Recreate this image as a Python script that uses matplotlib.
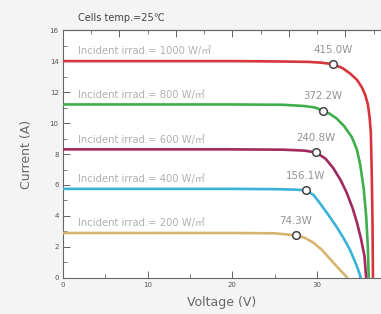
import matplotlib
matplotlib.use("Agg")
import matplotlib.pyplot as plt
import numpy as np

plt.rcParams['font.family'] = ['DejaVu Sans', 'Noto Sans CJK SC']

# ---- data ----
irradiances = [1000, 800, 600, 400, 200]
powers = ["415.0W", "372.2W", "240.8W", "156.1W", "74.3W"]
colors = ["#d8343c", "#3fae4c", "#a3285f", "#3bb2d9", "#d6b56e"]

v_1000 = [0, 10, 20, 25, 29, 30.5, 31.9, 33.0, 33.9, 34.7, 35.3, 35.7, 36.0, 36.2, 36.35, 36.45, 36.55, 36.6]
i_1000 = [14.0, 14.0, 14.0, 13.98, 13.95, 13.9, 13.8, 13.55, 13.2, 12.8, 12.3, 11.8, 11.2, 10.4, 9.4, 7.0, 3.5, 0.0]

v_800 = [0, 10, 20, 26, 28.5, 29.8, 30.7, 31.5, 32.3, 33.2, 34.1, 34.7, 35.1, 35.5, 35.8, 36.0, 36.1]
i_800 = [11.2, 11.2, 11.2, 11.18, 11.1, 11.0, 10.8, 10.6, 10.3, 9.8, 9.1, 8.3, 7.3, 5.8, 4.0, 2.0, 0.0]

v_600 = [0, 10, 20, 26, 28.5, 29.9, 31.0, 31.9, 32.8, 33.5, 34.2, 34.7, 35.2, 35.6, 35.8]
i_600 = [8.3, 8.3, 8.3, 8.28, 8.22, 8.1, 7.7, 7.1, 6.3, 5.5, 4.5, 3.6, 2.5, 1.4, 0.0]

v_400 = [0, 10, 20, 25, 27.5, 28.7, 29.6, 30.3, 31.3, 32.3, 33.1, 33.9, 34.6, 35.2]
i_400 = [5.75, 5.75, 5.75, 5.73, 5.7, 5.65, 5.35, 4.85, 4.1, 3.3, 2.6, 1.8, 0.9, 0.0]

v_200 = [0, 10, 20, 25, 27.5, 28.5, 29.5, 30.5, 31.5, 32.3, 33.0, 33.6]
i_200 = [2.9, 2.9, 2.9, 2.88, 2.75, 2.6, 2.3, 1.85, 1.25, 0.75, 0.35, 0.0]

mpp_v = [31.9, 30.7, 29.9, 28.7, 27.5]
mpp_i = [13.8, 10.8, 8.1, 5.65, 2.75]

curves_v = [v_1000, v_800, v_600, v_400, v_200]
curves_i = [i_1000, i_800, i_600, i_400, i_200]
flat_i = [14.0, 11.2, 8.3, 5.75, 2.9]

x_ticks = [0, 10, 20, 30]
y_ticks = [0, 2, 4, 6, 8, 10, 12, 14, 16]

# ---- figure ----
fig = plt.figure(figsize=(3.81, 3.14), dpi=100, facecolor="#f4f4f4")
ax = fig.add_axes([0.165, 0.115, 0.835, 0.789])
ax.set_facecolor("white")

for v, i, c in zip(curves_v, curves_i, colors):
    ax.plot(v, i, color=c, lw=1.9, solid_capstyle='butt', zorder=3)

ax.plot(mpp_v, mpp_i, linestyle='none', marker='o', ms=5.5, mfc='white',
        mec='#444444', mew=1.1, zorder=4)

for irr, fi in zip(irradiances, flat_i):
    ax.text(1.8, fi + 0.3, f"Incident irrad.= {irr} W/㎡", fontsize=7.2,
            color="#b0b0b0", va='bottom', ha='left', zorder=5)

for p, mv, mi in zip(powers, mpp_v, mpp_i):
    ax.text(mv, mi + 0.6, p, fontsize=7.4, color="#939393",
            ha='center', va='bottom', zorder=5)

ax.set_xlim(0, 37.55)
ax.set_ylim(0, 16)
ax.set_xticks(x_ticks)
ax.set_xticks([5, 15, 25, 35], minor=True)
ax.set_yticks(y_ticks)
ax.set_yticks(np.arange(1, 16, 2), minor=True)

for s in ['left', 'bottom', 'top']:
    ax.spines[s].set_color('#666666')
    ax.spines[s].set_linewidth(0.8)
ax.spines['right'].set_visible(False)

ax.tick_params(axis='both', which='major', direction='in', length=5, width=0.7,
               color='#666666', labelsize=5, labelcolor='#555555', pad=3)
ax.tick_params(axis='both', which='minor', direction='in', length=3, width=0.6,
               color='#666666')
ax.tick_params(axis='x', top=False)

top = ax.secondary_xaxis('top')
top.set_xticks([20/3, 40/3, 20, 80/3, 100/3])
top.set_xticks([10/3, 10, 50/3, 70/3, 30, 110/3], minor=True)
top.tick_params(which='major', direction='in', length=5, width=0.7, color='#666666',
                labeltop=False)
top.tick_params(which='minor', direction='in', length=3, width=0.6, color='#666666')
top.spines['top'].set_color('#666666')
top.spines['top'].set_linewidth(0.8)

ax.set_xlabel("Voltage (V)", fontsize=9, color='#666666', labelpad=6)
ax.set_ylabel("Current (A)", fontsize=9, color='#666666', labelpad=12)

fig.text(78/381, 1 - 18/314, "Cells temp.=25℃", fontsize=7, color='#444444',
         ha='left', va='center')

fig.savefig("out.png", dpi=100, facecolor=fig.get_facecolor())
